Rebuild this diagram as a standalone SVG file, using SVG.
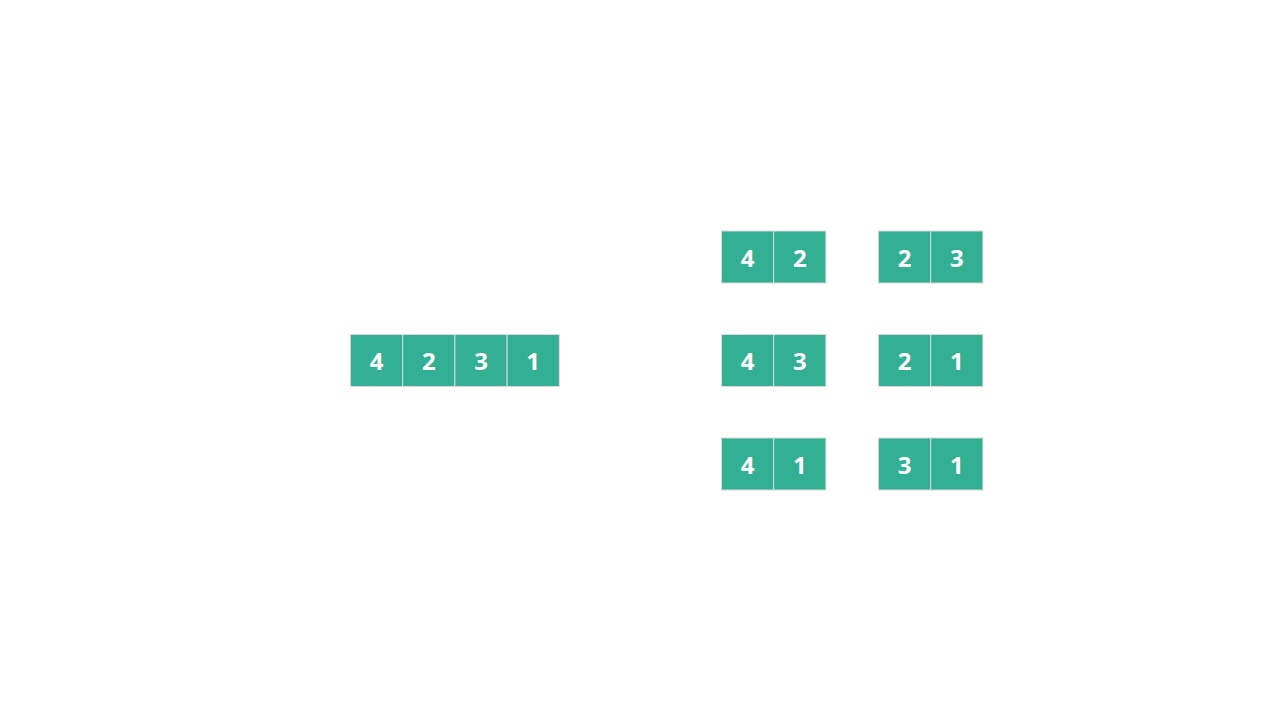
<svg xmlns="http://www.w3.org/2000/svg" width="1280" height="720" viewBox="0 0 1280 720">
<style>
.c{fill:#33B093;stroke:#D9D9D9;stroke-width:1}
.t{fill:#FFFFFF;font-family:"Open Sans","Liberation Sans",sans-serif;font-weight:bold;font-size:24px;text-anchor:middle;dominant-baseline:central}
</style>
<rect width="1280" height="720" fill="#FFFFFF"/>
<g id="array">
<rect class="c" x="350.5" y="334.5" width="52.2" height="52"/><text class="t" x="376.6" y="360.5">4</text>
<rect class="c" x="402.7" y="334.5" width="52.2" height="52"/><text class="t" x="428.8" y="360.5">2</text>
<rect class="c" x="454.9" y="334.5" width="52.2" height="52"/><text class="t" x="481" y="360.5">3</text>
<rect class="c" x="507.1" y="334.5" width="52.2" height="52"/><text class="t" x="533.2" y="360.5">1</text>
</g>
<g id="pair-42">
<rect class="c" x="721.5" y="231" width="52.2" height="52"/><text class="t" x="747.6" y="257">4</text>
<rect class="c" x="773.7" y="231" width="52.2" height="52"/><text class="t" x="799.8" y="257">2</text>
</g>
<g id="pair-23">
<rect class="c" x="878.5" y="231" width="52.2" height="52"/><text class="t" x="904.6" y="257">2</text>
<rect class="c" x="930.7" y="231" width="52.2" height="52"/><text class="t" x="956.8" y="257">3</text>
</g>
<g id="pair-43">
<rect class="c" x="721.5" y="334.5" width="52.2" height="52"/><text class="t" x="747.6" y="360.5">4</text>
<rect class="c" x="773.7" y="334.5" width="52.2" height="52"/><text class="t" x="799.8" y="360.5">3</text>
</g>
<g id="pair-21">
<rect class="c" x="878.5" y="334.5" width="52.2" height="52"/><text class="t" x="904.6" y="360.5">2</text>
<rect class="c" x="930.7" y="334.5" width="52.2" height="52"/><text class="t" x="956.8" y="360.5">1</text>
</g>
<g id="pair-41">
<rect class="c" x="721.5" y="438" width="52.2" height="52"/><text class="t" x="747.6" y="464">4</text>
<rect class="c" x="773.7" y="438" width="52.2" height="52"/><text class="t" x="799.8" y="464">1</text>
</g>
<g id="pair-31">
<rect class="c" x="878.5" y="438" width="52.2" height="52"/><text class="t" x="904.6" y="464">3</text>
<rect class="c" x="930.7" y="438" width="52.2" height="52"/><text class="t" x="956.8" y="464">1</text>
</g>
<g id="connectors"></g>
</svg>
